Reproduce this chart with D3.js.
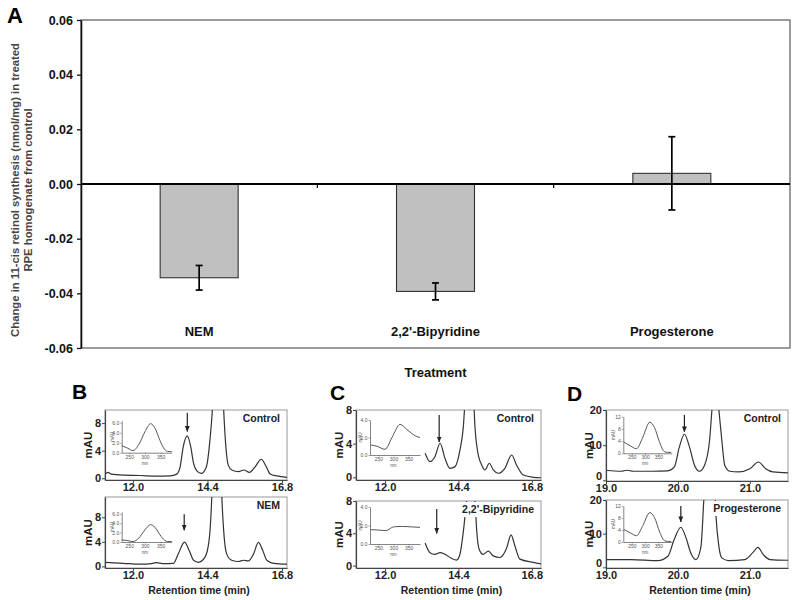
<!DOCTYPE html>
<html><head><meta charset="utf-8">
<script src="https://cdn.jsdelivr.net/npm/d3@7"></script>
<style>body{margin:0;background:#fff;} svg{display:block;font-family:"Liberation Sans",Arial,sans-serif;}</style>
</head><body><svg id="c" width="800" height="600"></svg>
<script>
// ---------- Panel A data ----------
const treatments = ["NEM", "2,2'-Bipyridine", "Progesterone"];
const changeValues = [-0.0343, -0.0393, 0.0039];
const changeErrors = [0.0045, 0.0031, 0.0134];
const yTicksA = [0.06, 0.04, 0.02, 0.00, -0.02, -0.04, -0.06];
const yLabelA = ["Change in 11-cis retinol synthesis (nmol/mg) in treated", "RPE homogenate from control"];

// ---------- Chromatograms [retention time (min), mAU] ----------
const traceBControl = [[11.10,0.6],[11.20,0.85],[11.30,0.6],[11.69,0.45],[12.23,0.4],[12.76,0.3],[13.19,0.35],[13.41,0.6],[13.52,1.7],[13.62,4.6],[13.75,6.15],[13.86,4.6],[13.95,2.2],[14.05,1.1],[14.2,0.7],[14.36,1.6],[14.48,5.6],[14.57,11],[14.66,22],[14.74,25],[14.82,22],[14.91,11],[15.0,4.1],[15.07,1.9],[15.18,1.2],[15.40,0.97],[15.58,1.2],[15.75,0.85],[15.94,1.7],[16.13,2.76],[16.29,1.7],[16.42,0.63],[16.64,0.34],[16.96,0.14]];
const traceBNem = [[11.10,0.67],[11.69,0.5],[12.23,0.36],[12.6,0.45],[12.76,0.6],[12.95,0.45],[13.30,0.5],[13.46,2.05],[13.66,3.95],[13.81,2.6],[13.95,1.0],[14.11,0.67],[14.32,1.5],[14.46,4.6],[14.54,11.5],[14.62,24],[14.70,27],[14.78,24],[14.86,11.5],[14.94,4.6],[15.02,2.0],[15.18,1.0],[15.40,0.8],[15.56,1.0],[15.72,0.9],[15.88,2.0],[16.04,3.9],[16.18,2.6],[16.31,1.0],[16.53,0.5],[16.96,0.36]];
const traceCControl = [[13.31,2.86],[13.47,1.86],[13.63,2.45],[13.80,4.05],[13.96,2.26],[14.12,1.07],[14.29,1.27],[14.45,3.25],[14.56,6.0],[14.63,10],[14.70,14],[14.76,15],[14.82,14],[14.89,10],[14.94,6.0],[15.02,3.25],[15.16,1.46],[15.27,0.87],[15.41,1.67],[15.54,0.87],[15.70,0.48],[15.92,1.07],[16.14,2.65],[16.30,1.46],[16.52,0.27],[16.85,0.0],[17.1,-0.05]];
const traceCBipy = [[13.31,2.8],[13.47,1.6],[13.63,1.4],[13.80,1.6],[13.96,1.4],[14.18,0.88],[14.34,0.68],[14.45,1.4],[14.56,4.2],[14.65,7.4],[14.72,10],[14.80,11],[14.88,10],[14.95,7.4],[15.00,4.2],[15.08,2.0],[15.21,1.4],[15.38,1.8],[15.54,1.2],[15.76,1.0],[15.98,2.2],[16.12,3.8],[16.25,2.4],[16.41,0.8],[16.85,0.4],[17.1,0.2]];
const traceDControl = [[19.0,2.86],[19.21,2.57],[19.29,2.86],[19.38,2.57],[19.63,2.57],[19.86,2.67],[19.95,3.8],[20.02,9.5],[20.09,13.1],[20.16,9.5],[20.23,4.3],[20.30,2.57],[20.37,4.3],[20.44,11.4],[20.48,22],[20.52,30],[20.56,22],[20.61,11.4],[20.65,4.3],[20.72,2.57],[20.84,2.38],[21.0,3.3],[21.12,5.2],[21.22,3.3],[21.32,2.38],[21.53,2.1]];
const traceDProg = [[19.0,2.3],[19.35,2.3],[19.72,2.0],[19.86,3.3],[19.95,8.4],[20.04,11.9],[20.11,8.9],[20.18,4.2],[20.25,2.3],[20.32,6.1],[20.36,20],[20.41,32],[20.46,36],[20.50,30],[20.53,15],[20.57,6.1],[20.61,2.8],[20.70,2.0],[20.93,2.3],[21.05,4.6],[21.11,5.9],[21.19,3.7],[21.28,2.3],[21.53,2.1]];

// ---------- Inset UV spectra [wavelength (nm), mAU] ----------
const specBControl = [[226,1.4],[245,0.9],[262,0.4],[280,1.6],[300,4.2],[318,5.8],[332,4.9],[348,2.4],[362,0.7],[372,0.25],[385,0.2]];
const specBNem = [[226,0.45],[245,0.3],[262,0.1],[280,0.8],[300,2.6],[318,3.7],[332,3.1],[348,1.5],[362,0.4],[372,0.1],[385,0.1]];
const specCControl = [[225,1.15],[245,1.0],[272,0.65],[295,2.0],[322,3.5],[345,2.9],[372,2.2],[388,2.0]];
const specCBipy = [[225,1.55],[255,1.5],[275,1.45],[300,1.85],[330,1.9],[360,1.85],[388,1.8]];
const specDControl = [[220,3.7],[245,2.4],[268,1.5],[290,5.0],[318,10.2],[335,8.5],[355,3.5],[372,0.6],[385,0.3],[398,0.3]];
const specDProg = [[220,4.2],[245,3.0],[268,2.1],[290,5.2],[318,9.8],[335,8.2],[355,3.3],[372,0.5],[385,0.2],[398,0.2]];

// arrows [time, from mAU, to mAU]
const arrowBControl = [13.75, 9.5, 6.8];
const arrowBNem = [13.65, 8.5, 5.9];
const arrowCControl = [13.77, 7.4, 4.2];
const arrowCBipy = [13.69, 7.0, 4.0];
const arrowDControl = [20.09, 18.6, 13.8];
const arrowDProg = [20.04, 18.2, 13.5];

const ticksBC = [12.0, 14.4, 16.8];
const ticksD = [19.0, 20.0, 21.0];

const svg = d3.select("#c");
const defs = svg.append("defs");
defs.append("marker").attr("id","arr").attr("viewBox","0 0 10 10").attr("refX",9).attr("refY",5)
  .attr("markerWidth",5).attr("markerHeight",5).attr("orient","auto")
  .append("path").attr("d","M0,1 L10,5 L0,9 Z").attr("fill","#222");

// ================= Panel A =================
const A = {x0:81, x1:790, y0:20, y1:348};
const xA = d3.scaleBand().domain(treatments).range([A.x0, A.x1]);
const yA = d3.scaleLinear().domain([-0.06, 0.06]).range([A.y1, A.y0]);

svg.append("text").attr("x",7).attr("y",23).attr("font-size",22).attr("font-weight","bold").text("A");
svg.append("rect").attr("x",A.x0).attr("y",A.y0).attr("width",A.x1-A.x0).attr("height",A.y1-A.y0)
  .attr("fill","none").attr("stroke","#666").attr("stroke-width",1.3);

const gyA = svg.append("g").attr("transform",`translate(${A.x0},0)`)
  .call(d3.axisLeft(yA).tickValues(yTicksA).tickSize(4).tickSizeOuter(0).tickFormat(d => d.toFixed(2)));
gyA.select(".domain").attr("stroke","#111").attr("stroke-width",1.6);
gyA.selectAll(".tick line").attr("stroke","#111").attr("stroke-width",1.3);
gyA.selectAll(".tick text").attr("font-size",12.5).attr("font-weight","bold").attr("fill","#111")
  .attr("font-family","Liberation Sans, Arial, sans-serif").attr("x",-8);

const barW = xA.bandwidth()*0.33;
svg.append("g").selectAll("rect").data(treatments).join("rect")
  .attr("x", d => xA(d) + (xA.bandwidth()-barW)/2)
  .attr("width", barW)
  .attr("y", (d,i) => Math.min(yA(changeValues[i]), yA(0)))
  .attr("height", (d,i) => Math.abs(yA(changeValues[i]) - yA(0)))
  .attr("fill","#c0c0c0").attr("stroke","#333").attr("stroke-width",1.1);

svg.append("line").attr("x1",A.x0).attr("x2",A.x1).attr("y1",yA(0)).attr("y2",yA(0))
  .attr("stroke","#000").attr("stroke-width",2);
svg.append("g").selectAll("line").data(treatments.slice(1)).join("line")
  .attr("x1", d => xA(d)).attr("x2", d => xA(d)).attr("y1", yA(0)).attr("y2", yA(0)+4)
  .attr("stroke","#000").attr("stroke-width",1.2);

const eb = svg.append("g").attr("stroke","#000").attr("stroke-width",1.7);
treatments.forEach((d,i) => {
  const cx = xA(d) + xA.bandwidth()/2;
  const lo = yA(changeValues[i]-changeErrors[i]), hi = yA(changeValues[i]+changeErrors[i]);
  eb.append("line").attr("x1",cx).attr("x2",cx).attr("y1",lo).attr("y2",hi);
  eb.append("line").attr("x1",cx-3.5).attr("x2",cx+3.5).attr("y1",lo).attr("y2",lo);
  eb.append("line").attr("x1",cx-3.5).attr("x2",cx+3.5).attr("y1",hi).attr("y2",hi);
});
svg.append("g").selectAll("text").data(treatments).join("text")
  .attr("x", d => xA(d) + xA.bandwidth()/2).attr("y", 336)
  .attr("text-anchor","middle").attr("font-size",13).attr("font-weight","bold").attr("fill","#111")
  .text(d => d);
svg.append("text").attr("x", xA(treatments[1]) + xA.bandwidth()/2).attr("y",377)
  .attr("text-anchor","middle").attr("font-size",13).attr("font-weight","bold").attr("fill","#111").text("Treatment");
yLabelA.forEach((t,i) => {
  svg.append("text").attr("transform",`translate(${15+i*13},190) rotate(-90)`)
    .attr("text-anchor","middle").attr("dominant-baseline","central")
    .attr("font-size",11.3).attr("font-weight","bold").attr("fill","#444").text(t);
});

// ================= Chromatogram panels =================
const panels = [
  {x0:105,x1:287,y0:410,y1:480,xd:[11.1,16.96],yd:[-0.25,9.9],xt:ticksBC,yt:[0,4,8],trace:traceBControl,label:"Control",arrow:arrowBControl,
   inset:{x0:121.7,x1:171.7,y0:420.7,y1:452.7,xd:[226,385],yd:[0,6.4],yt:[0,2,4,6],spec:specBControl}},
  {x0:105,x1:287,y0:497,y1:568,xd:[11.1,16.96],yd:[-0.26,11.3],xt:ticksBC,yt:[0,4,8],trace:traceBNem,label:"NEM",arrow:arrowBNem,
   inset:{x0:121.7,x1:171.7,y0:512,y1:542,xd:[226,385],yd:[0,6.4],yt:[0,2,4,6],spec:specBNem}},
  {x0:356,x1:541,y0:410,y1:480,xd:[11.05,17.1],yd:[-0.32,8],xt:ticksBC,yt:[0,4,8],trace:traceCControl,label:"Control",arrow:arrowCControl,
   inset:{x0:370,x1:420,y0:420,y1:455,xd:[222,388],yd:[0,4],yt:[0,2,4],spec:specCControl}},
  {x0:356,x1:541,y0:501,y1:568,xd:[11.05,17.1],yd:[-0.3,8],xt:ticksBC,yt:[0,4,8],trace:traceCBipy,label:"2,2'-Bipyridine",arrow:arrowCBipy,labelBg:true,
   inset:{x0:370,x1:420,y0:507,y1:544,xd:[222,388],yd:[0,4],yt:[0,2,4],spec:specCBipy}},
  {x0:606,x1:788,y0:410,y1:481,xd:[19.0,21.53],yd:[-0.2,20],xt:ticksD,yt:[0,10,20],trace:traceDControl,label:"Control",arrow:arrowDControl,zeroUp:true,
   inset:{x0:623.3,x1:671.7,y0:416.7,y1:453.3,xd:[218,400],yd:[0,12],yt:[0,4,8,12],spec:specDControl}},
  {x0:606,x1:788,y0:500,y1:568,xd:[19.0,21.53],yd:[-0.2,20],xt:ticksD,yt:[0,10,20],trace:traceDProg,label:"Progesterone",arrow:arrowDProg,labelBg:true,zeroUp:true,
   inset:{x0:623.3,x1:671.7,y0:506,y1:542,xd:[218,400],yd:[0,12],yt:[0,4,8,12],spec:specDProg}}
];

const letters = [{t:"B",x:72,y:399},{t:"C",x:330,y:400},{t:"D",x:567,y:401}];
letters.forEach(l => svg.append("text").attr("x",l.x).attr("y",l.y).attr("font-size",21).attr("font-weight","bold").text(l.t));

panels.forEach((p,pi) => {
  const g = svg.append("g");
  const x = d3.scaleLinear().domain(p.xd).range([p.x0,p.x1]);
  const y = d3.scaleLinear().domain(p.yd).range([p.y1,p.y0]);
  const cid = "clip"+pi;
  defs.append("clipPath").attr("id",cid).append("rect")
    .attr("x",p.x0).attr("y",p.y0).attr("width",p.x1-p.x0).attr("height",p.y1-p.y0);
  g.append("rect").attr("x",p.x0).attr("y",p.y0).attr("width",p.x1-p.x0).attr("height",p.y1-p.y0)
    .attr("fill","none").attr("stroke","#999").attr("stroke-width",1);

  g.append("path").datum(p.trace).attr("clip-path",`url(#${cid})`)
    .attr("d", d3.line().x(d=>x(d[0])).y(d=>y(d[1])).curve(d3.curveMonotoneX))
    .attr("fill","none").attr("stroke","#333").attr("stroke-width",1.2);

  const gx = g.append("g").attr("transform",`translate(0,${p.y1})`)
    .call(d3.axisBottom(x).tickValues(p.xt).tickSize(3).tickSizeOuter(0).tickFormat(d=>d.toFixed(1)));
  const gy = g.append("g").attr("transform",`translate(${p.x0},0)`)
    .call(d3.axisLeft(y).tickValues(p.yt).tickSize(3).tickSizeOuter(0).tickFormat(d3.format("d")));
  [gx,gy].forEach(a => {
    a.select(".domain").attr("stroke","#444").attr("stroke-width",1.2);
    a.selectAll(".tick line").attr("stroke","#444");
    a.selectAll(".tick text").attr("font-size",11).attr("font-weight","bold").attr("fill","#222")
      .attr("font-family","Liberation Sans, Arial, sans-serif");
  });
  gx.selectAll(".tick text").attr("y",3);
  gy.selectAll(".tick text").attr("x",-4);
  if (p.zeroUp) gy.selectAll(".tick text").filter(d => d === 0).attr("dy","-0.05em");

  svg.append("text").attr("transform",`translate(${p.x0-13},${(p.y0+p.y1)/2}) rotate(-90)`)
    .attr("text-anchor","middle").attr("font-size",11.5).attr("font-weight","bold").attr("fill","#222").text("mAU");

  const lt = g.append("text").attr("x",p.x1-7).attr("y",p.y0+12).attr("text-anchor","end")
    .attr("font-size",10.5).attr("font-weight","bold").attr("fill","#222").text(p.label);
  if (p.labelBg) {
    const bb = lt.node().getBBox();
    g.insert("rect", () => lt.node()).attr("x",bb.x-1).attr("y",bb.y-1).attr("width",bb.width+2).attr("height",bb.height+3).attr("fill","#fff");
  }
  g.append("line").attr("x1",x(p.arrow[0])).attr("x2",x(p.arrow[0]))
    .attr("y1",y(p.arrow[1])).attr("y2",y(p.arrow[2]))
    .attr("stroke","#222").attr("stroke-width",1.2).attr("marker-end","url(#arr)");

  const q = p.inset;
  const ix = d3.scaleLinear().domain(q.xd).range([q.x0,q.x1]);
  const iy = d3.scaleLinear().domain(q.yd).range([q.y1,q.y0]);
  const ig = g.append("g");
  ig.append("path").datum(q.spec)
    .attr("d", d3.line().x(d=>ix(d[0])).y(d=>iy(d[1])).curve(d3.curveMonotoneX))
    .attr("fill","none").attr("stroke","#555").attr("stroke-width",1);
  const igx = ig.append("g").attr("transform",`translate(0,${q.y1})`)
    .call(d3.axisBottom(ix).tickValues([250,300,350]).tickSize(1.5).tickSizeOuter(0));
  const igy = ig.append("g").attr("transform",`translate(${q.x0},0)`)
    .call(d3.axisLeft(iy).tickValues(q.yt).tickSize(1.5).tickSizeOuter(0));
  [igx,igy].forEach(a => {
    a.select(".domain").attr("stroke","#666").attr("stroke-width",0.8);
    a.selectAll(".tick line").attr("stroke","#666").attr("stroke-width",0.6);
    a.selectAll(".tick text").attr("font-size",5).attr("fill","#555");
  });
  igx.selectAll(".tick text").attr("y",2.5);
  igy.selectAll(".tick text").attr("x",-2.5);
  ig.append("text").attr("x",(ix(250)+ix(350))/2).attr("y",q.y1+12).attr("text-anchor","middle")
    .attr("font-size",4.5).attr("fill","#555").text("nm");
  ig.append("text").attr("transform",`translate(${q.x0-8},${(q.y0+q.y1)/2}) rotate(-90)`)
    .attr("text-anchor","middle").attr("font-size",4.5).attr("fill","#555").text("mAU");

  if (pi % 2 === 1) {
    svg.append("text").attr("x",(p.x0+p.x1)/2+3).attr("y",594).attr("text-anchor","middle")
      .attr("font-size",10.5).attr("font-weight","bold").attr("fill","#222").text("Retention time (min)");
  }
});
</script></body></html>
